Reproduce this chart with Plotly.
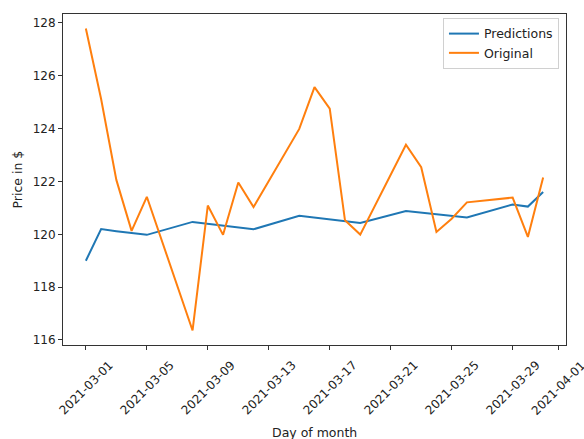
import plotly.graph_objects as go

# Trading days in March 2021
dates = [
    "2021-03-01", "2021-03-02", "2021-03-03", "2021-03-04", "2021-03-05",
    "2021-03-08", "2021-03-09", "2021-03-10", "2021-03-11", "2021-03-12",
    "2021-03-15", "2021-03-16", "2021-03-17", "2021-03-18", "2021-03-19",
    "2021-03-22", "2021-03-23", "2021-03-24", "2021-03-25", "2021-03-26",
    "2021-03-29", "2021-03-30", "2021-03-31",
]

# Model output
predictions = [
    119.00, 120.20, 120.12, 120.05, 119.98,
    120.47, 120.40, 120.33, 120.26, 120.19,
    120.70, 120.63, 120.57, 120.50, 120.43,
    120.88, 120.82, 120.76, 120.71, 120.64,
    121.13, 121.05, 121.60,
]

# Actual closing prices
original = [
    127.79, 125.12, 122.06, 120.13, 121.42,
    116.36, 121.09, 119.98, 121.96, 121.03,
    123.99, 125.57, 124.76, 120.53, 119.99,
    123.39, 122.54, 120.09, 120.59, 121.21,
    121.39, 119.90, 122.15,
]

x_ticks = [
    "2021-03-01", "2021-03-05", "2021-03-09", "2021-03-13", "2021-03-17",
    "2021-03-21", "2021-03-25", "2021-03-29", "2021-04-01",
]
y_ticks = [116, 118, 120, 122, 124, 126, 128]

FONT = "DejaVu Sans"
TEXT = "#222"
BLUE = "#1f77b4"
ORANGE = "#ff7f0e"

fig = go.Figure()
fig.add_trace(go.Scatter(x=dates, y=predictions, mode="lines", name="Predictions",
                         line=dict(color=BLUE, width=2)))
fig.add_trace(go.Scatter(x=dates, y=original, mode="lines", name="Original",
                         line=dict(color=ORANGE, width=2)))

# Rotated date labels, centred under each tick
annotations = [
    dict(x=t, y=0, xref="x", yref="paper", text=t, showarrow=False,
         textangle=-45, xanchor="center", yanchor="top", yshift=-10,
         font=dict(family=FONT, size=12, color=TEXT))
    for t in x_ticks
]
annotations.append(dict(x=0.5, y=0, xref="paper", yref="paper", text="Day of month",
                        showarrow=False, xanchor="center", yanchor="top", yshift=-78,
                        font=dict(family=FONT, size=12.5, color=TEXT)))
annotations.append(dict(x=0, y=0.5, xref="paper", yref="paper", text="Price in $",
                        showarrow=False, textangle=-90, xanchor="center", yanchor="middle",
                        xshift=-46, font=dict(family=FONT, size=12.5, color=TEXT)))

fig.update_layout(
    width=584, height=439,
    margin=dict(l=63, r=18, t=14, b=94),
    paper_bgcolor="white", plot_bgcolor="white",
    font=dict(family=FONT, size=12, color=TEXT),
    showlegend=True,
    legend=dict(x=0.986, y=0.988, xanchor="right", yanchor="top",
                bgcolor="rgba(255,255,255,0.8)", bordercolor="#d0d0d0", borderwidth=1,
                font=dict(family=FONT, size=12.5, color=TEXT),
                tracegroupgap=0, itemwidth=30),
    annotations=annotations,
)
fig.update_xaxes(
    type="date", range=["2021-02-27 12:00", "2021-04-01 12:00"],
    tickvals=x_ticks, showticklabels=False,
    ticks="outside", ticklen=4, tickcolor="#333",
    showline=True, linecolor="#333", linewidth=1, mirror=True,
    showgrid=False, zeroline=False,
)
fig.update_yaxes(
    range=[115.81, 128.34], tickvals=y_ticks,
    ticks="outside", ticklen=4, tickcolor="#333",
    showline=True, linecolor="#333", linewidth=1, mirror=True,
    showgrid=False, zeroline=False,
    tickfont=dict(family=FONT, size=12, color=TEXT),
)

fig.write_html("out.html")
